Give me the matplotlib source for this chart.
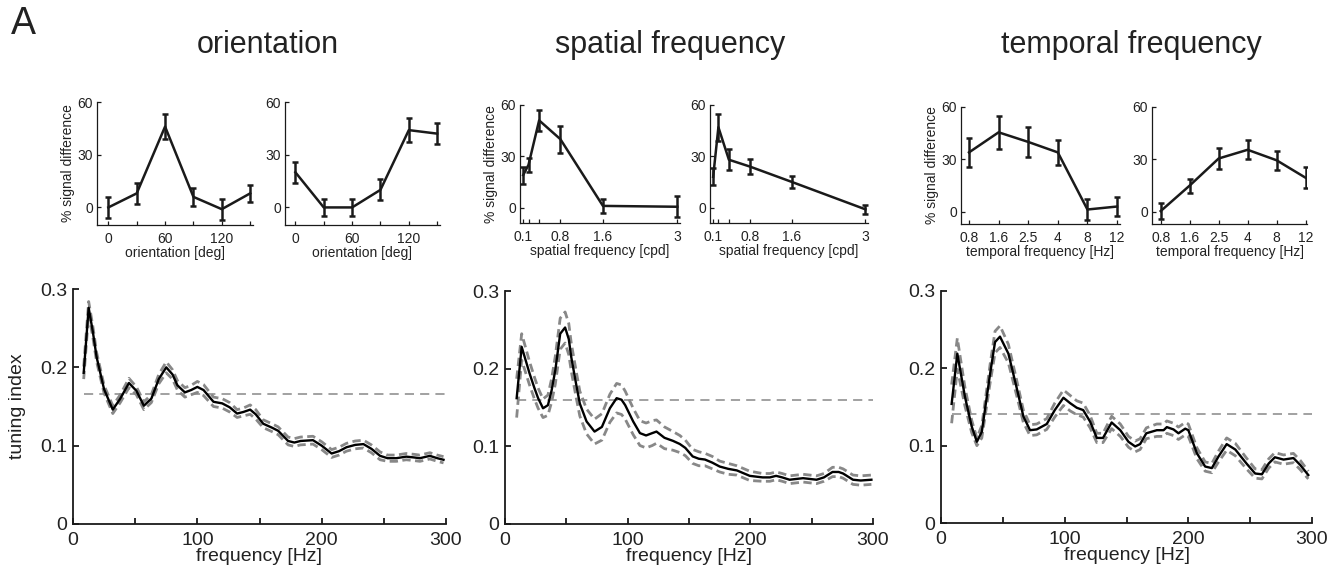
import matplotlib
matplotlib.use('Agg')
import matplotlib.pyplot as plt
import numpy as np

plt.rcParams['font.family'] = ['Liberation Sans', 'DejaVu Sans']

# ---- top row: tuning curves (mean, sem) ----
ori_x = [0, 30, 60, 90, 120, 150]
ori_labels = ['0', '', '60', '', '120', '']
ori1_mean = [0, 8, 46, 6, -1, 8]
ori1_err = [6, 6, 7, 5, 6, 5]
ori2_mean = [20, 0, 0, 10, 44, 42]
ori2_err = [6, 5, 5, 6, 7, 6]

sf_x = [0.1, 0.2, 0.4, 0.8, 1.6, 3]
sf_labels = ['0.1', '', '', '0.8', '1.6', '3']
sf1_mean = [19, 25, 51, 40, 1, 0.5]
sf1_err = [5, 4, 6, 8, 4, 6]
sf2_mean = [18, 47, 28, 24, 15, -1]
sf2_err = [5, 8, 6, 4.5, 3.5, 2.5]

tf_labels = ['0.8', '1.6', '2.5', '4', '8', '12']
tf1_mean = [34, 45.5, 40, 34, 1.3, 3]
tf1_err = [8.5, 9.5, 8.5, 7, 6, 5.5]
tf2_mean = [0.4, 15, 30.5, 35.5, 29.5, 19.5]
tf2_err = [4.5, 4, 6, 5.5, 5.5, 6]

# ---- bottom row: tuning index vs frequency ----
freq1 = [8.6, 12.6, 16, 19, 25, 32, 38, 45, 51, 57,
         63, 69, 75, 80, 84, 90, 95, 100, 105, 113,
         120, 126, 132, 137, 142.5, 147, 153, 160, 165, 173,
         178, 183, 193, 200, 208, 214, 220, 227, 233.6, 240,
         247, 253, 260, 268, 274, 279, 287, 293, 298]
ti1 = [0.193, 0.276, 0.245, 0.213, 0.172, 0.146, 0.160, 0.180, 0.170, 0.151,
       0.160, 0.185, 0.200, 0.191, 0.177, 0.168, 0.171, 0.175, 0.171, 0.156,
       0.154, 0.149, 0.141, 0.143, 0.146, 0.140, 0.128, 0.123, 0.119, 0.106,
       0.104, 0.106, 0.107, 0.100, 0.090, 0.093, 0.098, 0.101, 0.102, 0.096,
       0.087, 0.084, 0.084, 0.086, 0.085, 0.084, 0.087, 0.084, 0.082]
ci1 = [0.008, 0.008, 0.007, 0.006, 0.005, 0.005, 0.005, 0.006, 0.005, 0.005,
       0.005, 0.006, 0.007, 0.006, 0.006, 0.006, 0.006, 0.007, 0.007, 0.006,
       0.006, 0.006, 0.005, 0.005, 0.006, 0.006, 0.005, 0.005, 0.005, 0.005,
       0.005, 0.005, 0.005, 0.005, 0.005, 0.005, 0.005, 0.005, 0.005, 0.005,
       0.005, 0.004, 0.004, 0.004, 0.004, 0.004, 0.004, 0.004, 0.004]

freq2 = [9.5, 13.6, 17, 20, 24, 27, 31, 35, 38, 41,
         45, 49, 52, 54, 58, 61, 66.5, 73, 79, 85.5,
         91, 95, 98, 104.5, 110, 115, 120, 123.5, 130, 137,
         142.5, 147, 153, 158, 163, 169, 175, 182, 189, 195,
         199.5, 210, 216, 221, 226, 232, 243, 254, 260, 267,
         272, 275.6, 283.7, 290, 298.7]
ti2 = [0.162, 0.228, 0.21, 0.194, 0.175, 0.162, 0.149, 0.153, 0.172, 0.198,
       0.245, 0.253, 0.238, 0.215, 0.18, 0.155, 0.132, 0.119, 0.125, 0.149,
       0.162, 0.160, 0.153, 0.132, 0.117, 0.114, 0.117, 0.119, 0.111, 0.107,
       0.103, 0.098, 0.087, 0.084, 0.083, 0.079, 0.074, 0.071, 0.069, 0.065,
       0.062, 0.060, 0.060, 0.062, 0.060, 0.057, 0.059, 0.057, 0.060, 0.067,
       0.067, 0.065, 0.057, 0.056, 0.057]
ci2 = [0.025, 0.017, 0.016, 0.015, 0.014, 0.013, 0.012, 0.013, 0.015, 0.018,
       0.02, 0.02, 0.02, 0.018, 0.017, 0.016, 0.016, 0.016, 0.017, 0.018,
       0.019, 0.019, 0.018, 0.017, 0.016, 0.016, 0.016, 0.015, 0.014, 0.012,
       0.011, 0.010, 0.009, 0.009, 0.008, 0.008, 0.007, 0.007, 0.006, 0.006,
       0.006, 0.005, 0.005, 0.005, 0.005, 0.005, 0.005, 0.005, 0.005, 0.006,
       0.006, 0.006, 0.006, 0.006, 0.006]

freq3 = [8.6, 13.2, 19.4, 24.8, 29, 33, 39.7, 43.7, 47.7, 54.5,
         61, 66.6, 72, 77.4, 85.5, 92, 99, 104.4, 109.8, 115,
         120.6, 126, 131, 138, 145, 151.6, 157, 161, 166, 174.5,
         180, 182.6, 188, 192, 197.5, 200, 207, 213.6, 219, 224.4,
         231, 238, 247, 254, 259.5, 265, 270, 277, 285, 290.5,
         297]
ti3 = [0.154, 0.219, 0.163, 0.125, 0.105, 0.118, 0.193, 0.234, 0.241, 0.219,
       0.176, 0.138, 0.120, 0.121, 0.128, 0.146, 0.162, 0.155, 0.149, 0.146,
       0.131, 0.110, 0.110, 0.130, 0.120, 0.105, 0.099, 0.102, 0.116, 0.120,
       0.120, 0.124, 0.121, 0.116, 0.122, 0.120, 0.090, 0.073, 0.071, 0.086,
       0.102, 0.095, 0.077, 0.064, 0.063, 0.077, 0.085, 0.082, 0.084, 0.075,
       0.062]
ci3 = [0.025, 0.02, 0.012, 0.008, 0.005, 0.008, 0.012, 0.014, 0.014, 0.012,
       0.01, 0.008, 0.007, 0.007, 0.007, 0.009, 0.01, 0.01, 0.009, 0.009,
       0.008, 0.006, 0.006, 0.008, 0.008, 0.007, 0.007, 0.007, 0.007, 0.008,
       0.008, 0.008, 0.008, 0.008, 0.008, 0.008, 0.007, 0.006, 0.006, 0.007,
       0.008, 0.008, 0.007, 0.006, 0.006, 0.006, 0.006, 0.006, 0.006, 0.006,
       0.005]

thresholds = [0.166, 0.160, 0.141]

W, H = 1329, 573
INK = '#1a1a1a'
TXT = '#222222'


def px_axes(fig, left, top, right, bottom):
    return fig.add_axes([left / W, 1 - bottom / H, (right - left) / W, (bottom - top) / H])


def style(ax, lw, size, length, xpad, ypad):
    for s in ['top', 'right']:
        ax.spines[s].set_visible(False)
    for s in ['left', 'bottom']:
        ax.spines[s].set_linewidth(lw)
        ax.spines[s].set_color(INK)
    ax.tick_params(which='both', direction='in', width=lw, color=INK,
                   labelsize=size, labelcolor=TXT, length=length)
    ax.tick_params(axis='x', which='both', pad=xpad)
    ax.tick_params(axis='y', which='both', pad=ypad)


def small_panel(fig, box, x, mean, err, xticks, xlabels, xlim, ylim, xlabel, ylabel=None):
    ax = px_axes(fig, *box)
    ax.errorbar(x, mean, yerr=err, color=INK, lw=1.8, capsize=2.5,
                capthick=1.8, elinewidth=1.8)
    ax.set_xlim(*xlim)
    ax.set_ylim(*ylim)
    ax.set_yticks([0, 30, 60])
    ax.set_xticks(xticks)
    ax.set_xticklabels(xlabels)
    style(ax, 0.9, 10, 3, 5, 3)
    ax.set_xlabel(xlabel, fontsize=10, labelpad=0, color=TXT)
    if ylabel:
        ax.set_ylabel(ylabel, fontsize=10, labelpad=2, color=TXT)
    return ax


def big_panel(fig, box, f, ti, ci, thr, ylabel=None):
    ax = px_axes(fig, *box)
    f = np.array(f)
    ti = np.array(ti)
    ci = np.array(ci)
    ax.plot([f[0], 300], [thr, thr], color='#888888', lw=1.1, dashes=(6, 4))
    ax.plot(f, ti + ci, color='#888888', lw=2.0, dashes=(3, 1.6))
    ax.plot(f, ti - ci, color='#888888', lw=2.0, dashes=(3, 1.6))
    ax.plot(f, ti, color='black', lw=1.7)
    ax.set_xlim(0, 300)
    ax.set_ylim(0, 0.3)
    ax.set_xticks([0, 100, 200, 300])
    ax.set_xticks([50, 150, 250], minor=True)
    ax.set_yticks([0, 0.1, 0.2, 0.3])
    ax.set_yticklabels(['0', '0.1', '0.2', '0.3'])
    style(ax, 1.3, 14, 4, 6, 4)
    ax.set_xlabel('frequency [Hz]', fontsize=14, labelpad=-1, color=TXT)
    if ylabel:
        ax.set_ylabel(ylabel, fontsize=14, labelpad=10, color=TXT)
    return ax


fig = plt.figure(figsize=(W / 100, H / 100), dpi=100)

fig.text(23 / W, 1 - 24 / H, 'A', fontsize=27, ha='center', va='center', color=TXT)
fig.text(268 / W, 1 - 45 / H, 'orientation', fontsize=22, ha='center', va='center', color=TXT)
fig.text(670 / W, 1 - 45 / H, 'spatial frequency', fontsize=22, ha='center', va='center', color=TXT)
fig.text(1131 / W, 1 - 45 / H, 'temporal frequency', fontsize=22, ha='center', va='center', color=TXT)

tf_x = list(range(len(tf_labels)))

small_panel(fig, (97, 102, 253, 225), ori_x, ori1_mean, ori1_err, ori_x, ori_labels,
            (-12, 153), (-10, 60), 'orientation [deg]', '% signal difference')
small_panel(fig, (285, 102, 440, 225), ori_x, ori2_mean, ori2_err, ori_x, ori_labels,
            (-11, 153), (-10, 60), 'orientation [deg]')
small_panel(fig, (520, 105, 680, 223), sf_x, sf1_mean, sf1_err, sf_x, sf_labels,
            (0.04, 3.05), (-9, 60), 'spatial frequency [cpd]', '% signal difference')
small_panel(fig, (710, 105, 868, 223), sf_x, sf2_mean, sf2_err, sf_x, sf_labels,
            (0.04, 3.05), (-9, 60), 'spatial frequency [cpd]')
small_panel(fig, (961, 107, 1120, 224), tf_x, tf1_mean, tf1_err, tf_x, tf_labels,
            (-0.27, 5.1), (-7, 60), 'temporal frequency [Hz]', '% signal difference')
small_panel(fig, (1152, 107, 1307, 224), tf_x, tf2_mean, tf2_err, tf_x, tf_labels,
            (-0.3, 5.05), (-7, 60), 'temporal frequency [Hz]')

big_panel(fig, (73, 289, 446, 524), freq1, ti1, ci1, thresholds[0], 'tuning index')
big_panel(fig, (505, 291, 873, 524), freq2, ti2, ci2, thresholds[1])
big_panel(fig, (941, 291, 1312, 523), freq3, ti3, ci3, thresholds[2])

fig.savefig('out.png', dpi=100)
